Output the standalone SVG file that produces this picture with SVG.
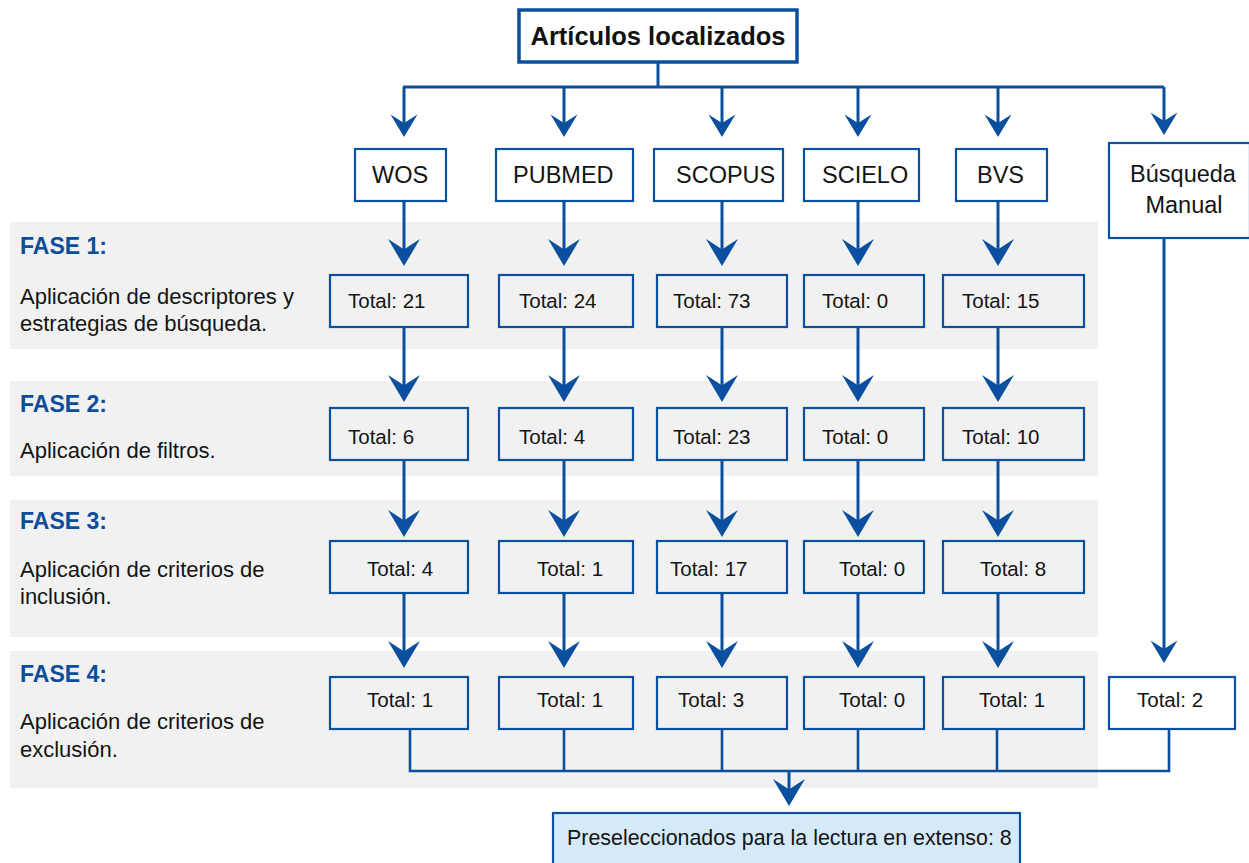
<svg xmlns="http://www.w3.org/2000/svg" xmlns:xlink="http://www.w3.org/1999/xlink" width="1249" height="863" viewBox="0 0 1249 863">
<defs>
<style>
.band{fill:#f1f1f1}
.box{fill:none;stroke:#0b4f9f;stroke-width:2.2}
.wbox{fill:#ffffff;stroke:#0b4f9f;stroke-width:2.2}
.ln{fill:none;stroke:#0b4f9f;stroke-width:3}
.bus{fill:none;stroke:#0b4f9f;stroke-width:2.6}
.ah{fill:#0b4f9f}
.t{font-family:"Liberation Sans",Arial,sans-serif;font-size:20.5px;fill:#141414}
.src{font-family:"Liberation Sans",Arial,sans-serif;font-size:23.5px;fill:#141414}
.fase{font-family:"Liberation Sans",Arial,sans-serif;font-size:23px;font-weight:bold;fill:#0d4c9b}
.desc{font-family:"Liberation Sans",Arial,sans-serif;font-size:22px;fill:#141414}
</style>
<path id="big" class="ah" d="M0,0 L-16,-27 Q-5,-20 0,-16.5 Q5,-20 16,-27 Z"/>
<path id="small" class="ah" d="M0,0 L-13.5,-22.5 Q-4.2,-16.8 0,-13.8 Q4.2,-16.8 13.5,-22.5 Z"/>
</defs>
<rect width="1249" height="863" fill="#ffffff"/>
<g id="bands">
<rect class="band" x="10" y="222" width="1088" height="127"/>
<rect class="band" x="10" y="381" width="1088" height="95"/>
<rect class="band" x="10" y="500" width="1088" height="137"/>
<rect class="band" x="10" y="651" width="1088" height="137"/>
</g>
<g id="phase-labels">
<text class="fase" x="20" y="254">FASE 1:</text>
<text class="desc" x="20" y="304">Aplicación de descriptores y</text>
<text class="desc" x="20" y="331">estrategias de búsqueda.</text>
<text class="fase" x="20" y="412">FASE 2:</text>
<text class="desc" x="20" y="458">Aplicación de filtros.</text>
<text class="fase" x="20" y="529">FASE 3:</text>
<text class="desc" x="20" y="577">Aplicación de criterios de</text>
<text class="desc" x="20" y="604">inclusión.</text>
<text class="fase" x="20" y="682">FASE 4:</text>
<text class="desc" x="20" y="729">Aplicación de criterios de</text>
<text class="desc" x="20" y="757">exclusión.</text>
</g>
<g id="connectors">
<path class="ln" d="M658,62 V87 M403,87 H1164"/>
<path class="ln" d="M404,87 V125 M564,87 V125 M722,87 V125 M858,87 V125 M998,87 V125 M1164,87 V125"/>
<use xlink:href="#small" x="404" y="137"/>
<use xlink:href="#small" x="564" y="137"/>
<use xlink:href="#small" x="722" y="137"/>
<use xlink:href="#small" x="858" y="137"/>
<use xlink:href="#small" x="998" y="137"/>
<use xlink:href="#small" x="1164" y="135"/>
<path class="ln" d="M404,201 V252 M564,201 V252 M722,201 V252 M858,201 V252 M998,201 V252"/>
<use xlink:href="#big" x="404" y="266"/>
<use xlink:href="#big" x="564" y="266"/>
<use xlink:href="#big" x="722" y="266"/>
<use xlink:href="#big" x="858" y="266"/>
<use xlink:href="#big" x="998" y="266"/>
<path class="ln" d="M404,327 V388 M564,327 V388 M722,327 V388 M858,327 V388 M998,327 V388"/>
<use xlink:href="#big" x="404" y="402"/>
<use xlink:href="#big" x="564" y="402"/>
<use xlink:href="#big" x="722" y="402"/>
<use xlink:href="#big" x="858" y="402"/>
<use xlink:href="#big" x="998" y="402"/>
<path class="ln" d="M404,460 V523 M564,460 V523 M722,460 V523 M858,460 V523 M998,460 V523"/>
<use xlink:href="#big" x="404" y="537"/>
<use xlink:href="#big" x="564" y="537"/>
<use xlink:href="#big" x="722" y="537"/>
<use xlink:href="#big" x="858" y="537"/>
<use xlink:href="#big" x="998" y="537"/>
<path class="ln" d="M404,593 V654 M564,593 V654 M722,593 V654 M858,593 V654 M998,593 V654"/>
<use xlink:href="#big" x="404" y="668"/>
<use xlink:href="#big" x="564" y="668"/>
<use xlink:href="#big" x="722" y="668"/>
<use xlink:href="#big" x="858" y="668"/>
<use xlink:href="#big" x="998" y="668"/>
<path class="ln" d="M1164,238 V651"/>
<use xlink:href="#small" x="1164" y="663"/>
<path class="bus" d="M410,729 V771 H1169 V729 M564,729 V771 M722,729 V771 M858,729 V771 M997,729 V771"/>
<path class="ln" d="M789,771 V793"/>
<use xlink:href="#big" x="789" y="806"/>
</g>
<g id="n-top">
<rect x="519" y="10" width="278" height="52" fill="#ffffff" stroke="#0b4f9f" stroke-width="3.5"/>
<text x="658" y="45" text-anchor="middle" font-family="Liberation Sans, Arial, sans-serif" font-size="25.5" font-weight="bold" fill="#111111">Artículos localizados</text>
</g>
<g id="n-wos"><rect class="wbox" x="355" y="149" width="91" height="52"/><text class="src" x="372" y="183">WOS</text></g>
<g id="n-pubmed"><rect class="wbox" x="496" y="149" width="137" height="52"/><text class="src" x="513" y="183">PUBMED</text></g>
<g id="n-scopus"><rect class="wbox" x="654" y="149" width="129" height="52"/><text class="src" x="676" y="183">SCOPUS</text></g>
<g id="n-scielo"><rect class="wbox" x="804" y="149" width="115" height="52"/><text class="src" x="822" y="183">SCIELO</text></g>
<g id="n-bvs"><rect class="wbox" x="956" y="149" width="91" height="52"/><text class="src" x="977" y="183">BVS</text></g>
<g id="n-manual"><rect class="wbox" x="1109" y="143" width="141" height="95"/><text class="src" x="1183" y="182" text-anchor="middle">Búsqueda</text><text class="src" x="1184" y="213" text-anchor="middle">Manual</text></g>

<g id="n-f1-wos"><rect class="box" x="330" y="275" width="138" height="52"/><text class="t" x="348" y="308">Total: 21</text></g>
<g id="n-f1-pubmed"><rect class="box" x="499" y="275" width="134" height="52"/><text class="t" x="519" y="308">Total: 24</text></g>
<g id="n-f1-scopus"><rect class="box" x="657" y="275" width="130" height="52"/><text class="t" x="673" y="308">Total: 73</text></g>
<g id="n-f1-scielo"><rect class="box" x="804" y="275" width="120" height="52"/><text class="t" x="822" y="308">Total: 0</text></g>
<g id="n-f1-bvs"><rect class="box" x="943" y="275" width="141" height="52"/><text class="t" x="962" y="308">Total: 15</text></g>

<g id="n-f2-wos"><rect class="box" x="330" y="408" width="138" height="52"/><text class="t" x="348" y="444">Total: 6</text></g>
<g id="n-f2-pubmed"><rect class="box" x="499" y="408" width="134" height="52"/><text class="t" x="519" y="444">Total: 4</text></g>
<g id="n-f2-scopus"><rect class="box" x="657" y="408" width="130" height="52"/><text class="t" x="673" y="444">Total: 23</text></g>
<g id="n-f2-scielo"><rect class="box" x="804" y="408" width="120" height="52"/><text class="t" x="822" y="444">Total: 0</text></g>
<g id="n-f2-bvs"><rect class="box" x="943" y="408" width="141" height="52"/><text class="t" x="962" y="444">Total: 10</text></g>

<g id="n-f3-wos"><rect class="box" x="330" y="541" width="138" height="52"/><text class="t" x="367" y="576">Total: 4</text></g>
<g id="n-f3-pubmed"><rect class="box" x="499" y="541" width="134" height="52"/><text class="t" x="537" y="576">Total: 1</text></g>
<g id="n-f3-scopus"><rect class="box" x="657" y="541" width="130" height="52"/><text class="t" x="670" y="576">Total: 17</text></g>
<g id="n-f3-scielo"><rect class="box" x="804" y="541" width="120" height="52"/><text class="t" x="839" y="576">Total: 0</text></g>
<g id="n-f3-bvs"><rect class="box" x="943" y="541" width="141" height="52"/><text class="t" x="980" y="576">Total: 8</text></g>

<g id="n-f4-wos"><rect class="box" x="330" y="677" width="138" height="52"/><text class="t" x="367" y="707">Total: 1</text></g>
<g id="n-f4-pubmed"><rect class="box" x="499" y="677" width="134" height="52"/><text class="t" x="537" y="707">Total: 1</text></g>
<g id="n-f4-scopus"><rect class="box" x="657" y="677" width="130" height="52"/><text class="t" x="678" y="707">Total: 3</text></g>
<g id="n-f4-scielo"><rect class="box" x="804" y="677" width="120" height="52"/><text class="t" x="839" y="707">Total: 0</text></g>
<g id="n-f4-bvs"><rect class="box" x="943" y="677" width="141" height="52"/><text class="t" x="979" y="707">Total: 1</text></g>
<g id="n-f4-manual"><rect class="wbox" x="1109" y="677" width="126" height="52"/><text class="t" x="1137" y="707">Total: 2</text></g>

<g id="n-final">
<rect x="553" y="813" width="467" height="56" fill="#d5eaf9" stroke="#0b4f9f" stroke-width="2.2"/>
<text class="t" x="567" y="845" style="font-size:21.4px">Preseleccionados para la lectura en extenso: 8</text>
</g>
</svg>
